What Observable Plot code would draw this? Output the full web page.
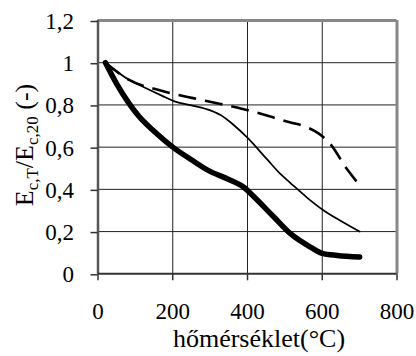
<!DOCTYPE html>
<html><head><meta charset="utf-8">
<script src="https://cdn.jsdelivr.net/npm/d3@7"></script>
<script src="https://cdn.jsdelivr.net/npm/@observablehq/plot@0.6"></script>
<style>body{margin:0;background:#fff} svg{display:block} svg text{font-family:"Liberation Serif", serif !important;}</style>
</head><body><div id="chart"></div>
<script>
const xTicks = [0, 200, 400, 600, 800];
const yTicks = [0, 0.2, 0.4, 0.6, 0.8, 1.0, 1.2];
const xTitle = "hőmérséklet(°C)";

const thickT = [20, 50, 82, 110, 150, 200, 250, 300, 350, 390, 420, 470, 515, 570, 600, 640, 700];
const thickV = [1.0, 0.9, 0.81, 0.745, 0.675, 0.6, 0.54, 0.485, 0.447, 0.41, 0.36, 0.27, 0.19, 0.125, 0.097, 0.087, 0.08];

const thinT = [20, 82, 130, 172, 203, 250, 287, 328, 363, 399, 452, 488, 515, 560, 604, 650, 700];
const thinV = [1.0, 0.92, 0.878, 0.843, 0.818, 0.798, 0.782, 0.752, 0.705, 0.646, 0.543, 0.473, 0.43, 0.36, 0.30, 0.25, 0.2];

const dashT = [20, 82, 172, 287, 390, 515, 550, 590, 604, 622, 666, 700];
const dashV = [1.0, 0.92, 0.866, 0.82, 0.78, 0.717, 0.70, 0.665, 0.646, 0.614, 0.496, 0.42];

const toPts = (t, v) => t.map((x, i) => ({x, y: v[i]}));
const thick = toPts(thickT, thickV);
const thin = toPts(thinT, thinV);
const dash = toPts(dashT, dashV);

const fmt = d => String(+d.toFixed(1)).replace(".", ",");
const FONT = "Liberation Serif, serif";

const chart = Plot.plot({
  width: 416, height: 356,
  marginLeft: 97.5, marginRight: 19.5, marginTop: 20, marginBottom: 82.7,
  style: {fontFamily: FONT, background: "#fff", color: "#000"},
  x: {domain: [0, 800]},
  y: {domain: [0, 1.2]},
  marks: [
    Plot.gridX(xTicks.slice(1, -1), {stroke: "#222", strokeOpacity: 1, strokeWidth: 1}),
    Plot.gridY(yTicks.slice(1, -1), {stroke: "#222", strokeOpacity: 1, strokeWidth: 1}),
    Plot.ruleY([1.2], {stroke: "#888", strokeWidth: 3}),
    Plot.ruleX([800], {stroke: "#888", strokeWidth: 3}),
    Plot.ruleX([0], {stroke: "#555", strokeWidth: 2.5}),
    Plot.ruleY([0], {stroke: "#333", strokeWidth: 2}),
    Plot.axisY(yTicks, {tickSize: 7, tickPadding: 17, fontSize: 23, fontFamily: FONT, tickFormat: fmt, stroke: "#333", strokeWidth: 1.5, fill: "#000", dy: 1, label: null}),
    Plot.axisX(xTicks, {tickSize: 7, tickPadding: 22, fontSize: 23, fontFamily: FONT, tickFormat: d => String(d), stroke: "#333", strokeWidth: 1.5, fill: "#000", label: null}),
    Plot.line(dash, {x: "x", y: "y", curve: "monotone-x", stroke: "#000", strokeWidth: 2.6, strokeDasharray: "18,9", strokeLinecap: "butt"}),
    Plot.line(thin, {x: "x", y: "y", curve: "monotone-x", stroke: "#000", strokeWidth: 1.7}),
    Plot.line(thick, {x: "x", y: "y", curve: "monotone-x", stroke: "#000", strokeWidth: 5.5})
  ]
});

const svg = d3.select(chart);
svg.append("text")
  .attr("x", 259).attr("y", 347)
  .attr("text-anchor", "middle")
  .attr("font-family", FONT)
  .attr("font-size", 26)
  .attr("fill", "#000")
  .text(xTitle);

const yl = svg.append("text")
  .attr("transform", "translate(33,145) rotate(-90)")
  .attr("text-anchor", "middle")
  .attr("font-family", FONT)
  .attr("font-size", 26)
  .attr("fill", "#000");
yl.append("tspan").text("E");
yl.append("tspan").attr("font-size", 17).attr("dy", 5).text("c,T");
yl.append("tspan").attr("dy", -5).text("/E");
yl.append("tspan").attr("font-size", 17).attr("dy", 5).text("c,20");
yl.append("tspan").attr("dy", -5).text(" (-)");

document.getElementById("chart").appendChild(chart);
</script>
</body></html>
